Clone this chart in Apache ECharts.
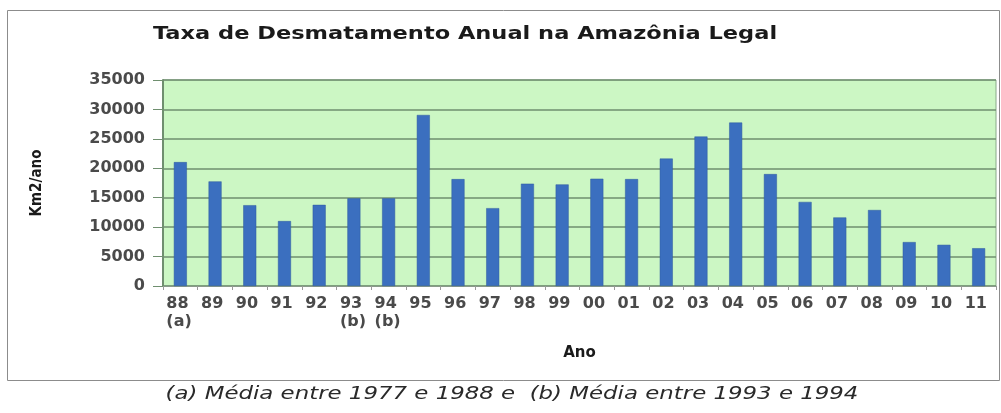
<!DOCTYPE html>
<html>
<head>
<meta charset="utf-8">
<script src="https://cdn.jsdelivr.net/npm/echarts@6/dist/echarts.min.js"></script>
<style>
  html, body { margin: 0; padding: 0; background: #fff; }
  #chart { width: 1001px; height: 413px; }
</style>
</head>
<body>
<div id="chart"></div>
<script>
// anos (rótulos do eixo x) e notas de rodapé por ano
var anos = ['88', '89', '90', '91', '92', '93', '94', '95', '96', '97', '98', '99',
            '00', '01', '02', '03', '04', '05', '06', '07', '08', '09', '10', '11'];
var notas = ['(a)', '', '', '', '', '(b)', '(b)', '', '', '', '', '',
             '', '', '', '', '', '', '', '', '', '', '', ''];
// taxa de desmatamento, km2/ano
var taxa = [21050, 17770, 13730, 11030, 13786, 14896, 14896, 29059, 18161, 13227, 17383, 17259,
            18226, 18165, 21651, 25396, 27772, 19014, 14286, 11651, 12911, 7464, 7000, 6418];
var yTicks = [0, 5000, 10000, 15000, 20000, 25000, 30000, 35000];

var myChart = echarts.init(document.getElementById('chart'), null, { renderer: 'canvas' });

var option = {
    backgroundColor: '#ffffff',
    animation: false,
    graphic: [
        {
            type: 'rect',
            shape: { x: 7.5, y: 10.5, width: 992, height: 370 },
            style: { fill: 'none', stroke: '#8c8c8c', lineWidth: 1 },
            z: -1
        },
        {
            // título, esticado na horizontal como na imagem original
            type: 'text',
            x: 465,
            y: 34,
            scaleX: 1.25,
            style: {
                text: 'Taxa de Desmatamento Anual na Amazônia Legal',
                font: 'bold 18px "DejaVu Sans"',
                fill: '#1a1a1a',
                align: 'center',
                verticalAlign: 'middle'
            }
        },
        {
            type: 'text',
            x: 512,
            y: 394,
            scaleX: 1.27,
            style: {
                text: '(a) Média entre 1977 e 1988 e  (b) Média entre 1993 e 1994',
                font: 'italic 18px "DejaVu Sans"',
                fill: '#2a2a2a',
                align: 'center',
                verticalAlign: 'middle'
            }
        }
    ],
    grid: {
        left: 163,
        top: 80,
        right: 5,
        bottom: 127,
        show: true,
        backgroundColor: '#ccf7c4',
        borderColor: '#8aa88a',
        borderWidth: 1
    },
    xAxis: {
        type: 'category',
        data: anos,
        name: 'Ano',
        nameLocation: 'middle',
        nameGap: 60,
        nameTextStyle: { fontFamily: 'DejaVu Sans', fontWeight: 'bold', fontSize: 15, color: '#1a1a1a' },
        axisLine: { lineStyle: { color: '#8a9a8a', width: 1 } },
        axisTick: { show: true, length: 4, lineStyle: { color: '#9a9a9a' } },
        axisLabel: {
            interval: 0,
            margin: 9,
            align: 'left',
            padding: [0, 0, 0, -14],
            fontFamily: 'DejaVu Sans',
            fontWeight: 'bold',
            fontSize: 16,
            lineHeight: 18,
            color: '#4a4a4a',
            formatter: function (v, i) {
                return notas[i] ? v + '\n' + notas[i] : v;
            }
        }
    },
    yAxis: {
        type: 'value',
        min: 0,
        max: 35000,
        interval: 5000,
        name: 'Km2/ano',
        nameLocation: 'middle',
        nameGap: 118,
        nameRotate: 90,
        nameTextStyle: { fontFamily: 'DejaVu Sans Condensed', fontWeight: 'bold', fontSize: 15, color: '#1a1a1a' },
        axisLine: { show: true, lineStyle: { color: '#6f8f6f', width: 2 } },
        axisTick: { show: true, length: 10, lineStyle: { color: '#6f8f6f' } },
        splitLine: { show: true, lineStyle: { color: '#6f8f6f', width: 1.5 } },
        axisLabel: {
            margin: 18,
            fontFamily: 'DejaVu Sans',
            fontWeight: 'bold',
            fontSize: 16,
            color: '#4a4a4a',
            formatter: function (v) { return yTicks.indexOf(v) >= 0 ? String(v) : ''; }
        }
    },
    series: [{
        type: 'bar',
        data: taxa,
        barWidth: 13,
        itemStyle: { color: '#3b6fbf', borderColor: '#2f5a9e', borderWidth: 0.5 }
    }]
};

myChart.setOption(option);
</script>
</body>
</html>
